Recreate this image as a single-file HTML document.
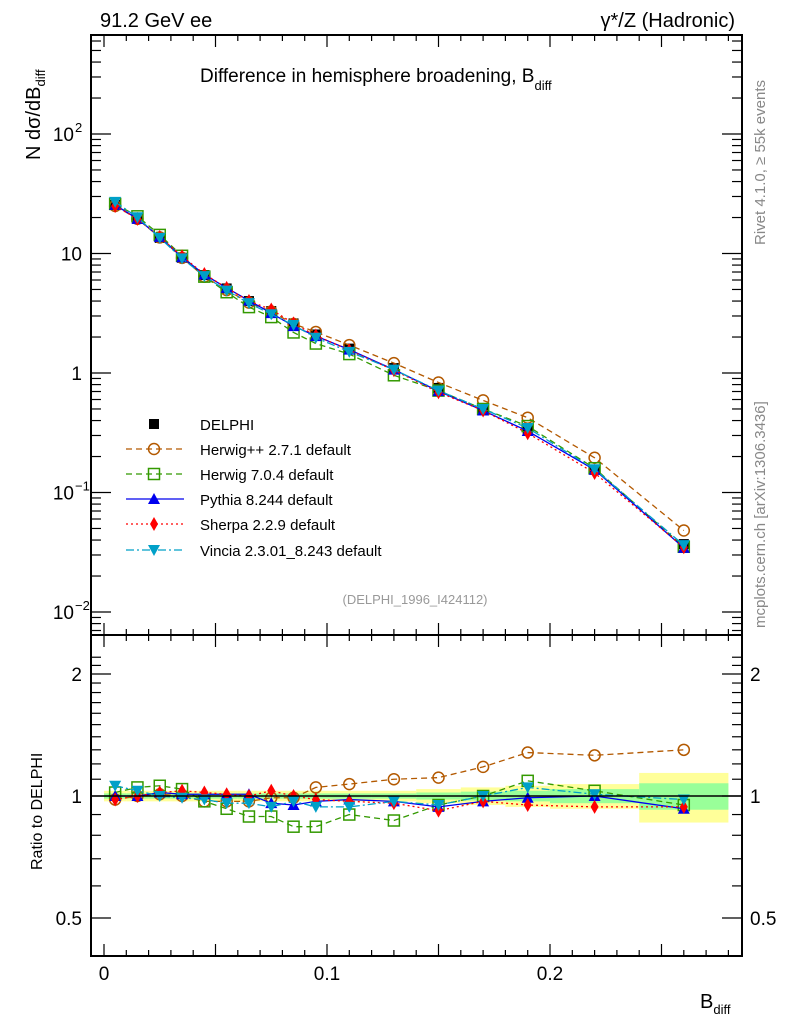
<!DOCTYPE html>
<html><head><meta charset="utf-8"><style>
body{margin:0;background:#fff;}
svg{display:block;font-family:"Liberation Sans",sans-serif;}
</style></head><body>
<svg id="c" width="786" height="1024" viewBox="0 0 786 1024" xmlns="http://www.w3.org/2000/svg">
<g id="bands"></g>
<g id="series"></g>
<g id="axes"></g>
<g id="legend"></g>
</svg>
<script>
const xs=[0.005,0.015,0.025,0.035,0.045,0.055,0.065,0.075,0.085,0.095,0.11,0.13,0.15,0.17,0.19,0.22,0.26];
const xlo=[0,0.01,0.02,0.03,0.04,0.05,0.06,0.07,0.08,0.09,0.1,0.12,0.14,0.16,0.18,0.2,0.24];
const xhi=[0.01,0.02,0.03,0.04,0.05,0.06,0.07,0.08,0.09,0.1,0.12,0.14,0.16,0.18,0.2,0.24,0.28];
const delphi=[25.5,19.5,13.5,9.2,6.6,5.1,4.0,3.3,2.6,2.1,1.6,1.1,0.75,0.5,0.33,0.155,0.037];
const errStat=[0.015,0.015,0.015,0.015,0.015,0.015,0.015,0.015,0.015,0.015,0.015,0.015,0.02,0.025,0.03,0.04,0.075];
const errTot=[0.03,0.03,0.03,0.03,0.03,0.03,0.03,0.03,0.03,0.03,0.03,0.03,0.04,0.05,0.06,0.07,0.14];
const rHerwigpp=[0.98,1.0,1.01,1.0,0.97,0.97,0.97,0.99,0.99,1.05,1.07,1.10,1.11,1.18,1.28,1.26,1.30];
const rHerwig7=[1.02,1.05,1.06,1.04,0.97,0.93,0.89,0.89,0.84,0.84,0.90,0.87,0.95,1.0,1.09,1.03,0.95];
const rPythia=[1.0,1.0,1.02,1.01,1.01,1.01,1.01,0.96,0.95,0.97,0.98,0.97,0.94,0.97,0.99,1.0,0.93];
const rSherpa=[0.98,1.0,1.02,1.03,1.02,1.01,1.0,1.03,1.0,0.98,0.97,0.96,0.92,0.97,0.95,0.94,0.94];
const rVincia=[1.06,1.03,1.0,0.99,0.98,0.96,0.96,0.94,0.97,0.94,0.94,0.97,0.95,1.0,1.05,1.01,0.98];
const xTicks=[0,0.1,0.2];
const xTickLabels=["0","0.1","0.2"];

const NS="http://www.w3.org/2000/svg";
const L=91,R=742,T=35,M=635,B=956;
const X=v=>104+v*2230;
const Y=v=>373-Math.log10(v)*119.5;
const YR=v=>796-Math.log2(v)*122;
function el(tag,attrs,parent,text){const e=document.createElementNS(NS,tag);for(const k in attrs)e.setAttribute(k,attrs[k]);if(text!==undefined)e.textContent=text;parent.appendChild(e);return e;}
const bands=document.getElementById('bands'),ser=document.getElementById('series'),ax=document.getElementById('axes'),lg=document.getElementById('legend');

xs.forEach((x,i)=>{
  const y=el('rect',{x:X(xlo[i]),y:YR(1+errTot[i]),width:X(xhi[i])-X(xlo[i]),height:YR(1-errTot[i])-YR(1+errTot[i]),fill:'#ffff99'},bands);
  
  
});
xs.forEach((x,i)=>{
  const g=el('rect',{x:X(xlo[i]),y:YR(1+errStat[i]),width:X(xhi[i])-X(xlo[i]),height:YR(1-errStat[i])-YR(1+errStat[i]),fill:'#99ff99'},bands);
  
  
});

const series=[
 {name:'Herwig++ 2.7.1 default',r:rHerwigpp,c:'#b35900',dash:'6,4',m:'circle'},
 {name:'Herwig 7.0.4 default',r:rHerwig7,c:'#339900',dash:'6,4',m:'square'},
 {name:'Pythia 8.244 default',r:rPythia,c:'#0000ee',dash:'',m:'tri'},
 {name:'Sherpa 2.2.9 default',r:rSherpa,c:'#ff0000',dash:'2,3',m:'diamond'},
 {name:'Vincia 2.3.01_8.243 default',r:rVincia,c:'#00a0c8',dash:'8,3,2,3',m:'tridown'}
];
function marker(m,x,y,c,p){
  let e;
  if(m==='circle')e=el('circle',{cx:x,cy:y,r:5.5,fill:'none',stroke:c,'stroke-width':1.5},p);
  else if(m==='square')e=el('rect',{x:x-5.5,y:y-5.5,width:11,height:11,fill:'none',stroke:c,'stroke-width':1.5},p);
  else if(m==='tri')e=el('polygon',{points:`${x},${y-6} ${x-6},${y+5} ${x+6},${y+5}`,fill:c},p);
  else if(m==='tridown')e=el('polygon',{points:`${x},${y+6} ${x-6},${y-5} ${x+6},${y-5}`,fill:c},p);
  else if(m==='diamond')e=el('polygon',{points:`${x},${y-7} ${x-4},${y} ${x},${y+7} ${x+4},${y}`,fill:c},p);
  else e=el('rect',{x:x-5,y:y-5,width:10,height:10,fill:c},p);
  return e;
}
const dg=el('g',{},ser);


xs.forEach((x,i)=>marker('sq',X(x),Y(delphi[i]),'#000',dg));
series.forEach(s=>{
  const g=el('g',{},ser);
  
  
  const pm=xs.map((x,i)=>X(x)+','+Y(delphi[i]*s.r[i])).join(' ');
  el('polyline',{points:pm,fill:'none',stroke:s.c,'stroke-width':1.3,'stroke-dasharray':s.dash},g);
  xs.forEach((x,i)=>marker(s.m,X(x),Y(delphi[i]*s.r[i]),s.c,g));
  const g2=el('g',{},ser);
  
  
  const pr=xs.map((x,i)=>X(x)+','+YR(s.r[i])).join(' ');
  el('polyline',{points:pr,fill:'none',stroke:s.c,'stroke-width':1.3,'stroke-dasharray':s.dash},g2);
  xs.forEach((x,i)=>marker(s.m,X(x),YR(s.r[i]),s.c,g2));
});
el('line',{x1:L,x2:R,y1:796,y2:796,stroke:'#000','stroke-width':1.5},ax);

const f1=el('rect',{x:L,y:T,width:R-L,height:M-T,fill:'none',stroke:'#000','stroke-width':2},ax);

const f2=el('rect',{x:L,y:M,width:R-L,height:B-M,fill:'none',stroke:'#000','stroke-width':2},ax);

for(let k=0;k<=28;k++){const v=k*0.01,x=X(v);const big=k%5===0,len=big?12:6;
 [T,M].forEach(y0=>el('line',{x1:x,x2:x,y1:y0,y2:y0+len,stroke:'#000','stroke-width':1.2},ax));
 [M,B].forEach(y0=>el('line',{x1:x,x2:x,y1:y0,y2:y0-len,stroke:'#000','stroke-width':1.2},ax));}
xTicks.forEach((v,i)=>{const t=el('text',{x:X(v),y:980,'text-anchor':'middle','font-size':19},ax,xTickLabels[i]);
 });
for(let d=-3;d<=2;d++){for(let m=1;m<10;m++){const v=m*Math.pow(10,d),y=Y(v);if(y<T||y>M)continue;const len=m===1?20:10;
 el('line',{x1:L,x2:L+len,y1:y,y2:y,stroke:'#000','stroke-width':1.2},ax);
 el('line',{x1:R,x2:R-len,y1:y,y2:y,stroke:'#000','stroke-width':1.2},ax);}}
[[0.01,'10','−2'],[0.1,'10','−1'],[1,'1',''],[10,'10',''],[100,'10','2']].forEach(([v,b,e])=>{
 const t=el('text',{x:e?74:82,y:Y(v)+7,'text-anchor':'end','font-size':19},ax,b);
 
 if(e){const s=el('text',{x:75,y:Y(v)-2,'font-size':13},ax,e);}
});
for(let k=1;k<=22;k++){const v=k/10;if(v<0.4)continue;const y=YR(v);if(y<M||y>B)continue;const big=(v===0.5||v===1||v===2);const len=big?20:10;
 el('line',{x1:L,x2:L+len,y1:y,y2:y,stroke:'#000','stroke-width':1.2},ax);
 el('line',{x1:R,x2:R-len,y1:y,y2:y,stroke:'#000','stroke-width':1.2},ax);}
[[0.5,'0.5'],[1,'1'],[2,'2']].forEach(([v,s])=>{
 const a=el('text',{x:82,y:YR(v)+7,'text-anchor':'end','font-size':19},ax,s);
 const b=el('text',{x:750,y:YR(v)+7,'font-size':19},ax,s);
});
const lx=154,ly=[424,449,474,499,524,550];
const d0=el('g',{},lg);
marker('sq',lx,ly[0],'#000',d0);el('text',{x:200,y:ly[0]+6,'font-size':15},d0,'DELPHI');
series.forEach((s,i)=>{const g=el('g',{},lg);
 el('line',{x1:126,x2:184,y1:ly[i+1],y2:ly[i+1],stroke:s.c,'stroke-width':1.3,'stroke-dasharray':s.dash},g);
 marker(s.m,lx,ly[i+1],s.c,g);el('text',{x:200,y:ly[i+1]+6,'font-size':15},g,s.name);});
</script>
<svg width="786" height="1024" style="position:absolute;left:0;top:0" xmlns="http://www.w3.org/2000/svg" font-family="Liberation Sans, sans-serif">
<text x="100" y="27" font-size="20">91.2 GeV ee</text>
<text x="735" y="27" font-size="20" text-anchor="end">γ*/Z (Hadronic)</text>
<text x="200" y="82" font-size="19">Difference in hemisphere broadening, B<tspan font-size="13" dy="8">diff</tspan></text>
<text transform="translate(40,160) rotate(-90)" font-size="20">N  dσ/dB<tspan font-size="13" dy="5">diff</tspan></text>
<text transform="translate(42,870) rotate(-90)" font-size="16">Ratio to DELPHI</text>
<text x="700" y="1008" font-size="20">B<tspan font-size="13" dy="6">diff</tspan></text>
<text x="415" y="604" font-size="13" fill="#999" text-anchor="middle">(DELPHI_1996_I424112)</text>
<text transform="translate(765,245) rotate(-90)" font-size="15" fill="#888">Rivet 4.1.0, ≥ 55k events</text>
<text transform="translate(765,628) rotate(-90)" font-size="15" fill="#888">mcplots.cern.ch [arXiv:1306.3436]</text>
</svg>
</body></html>
